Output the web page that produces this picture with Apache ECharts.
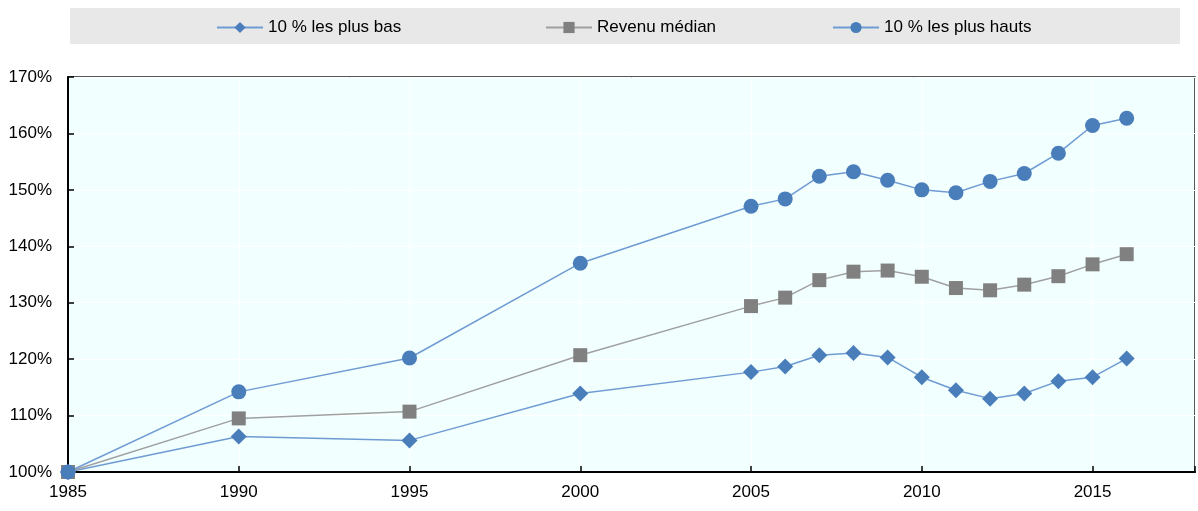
<!DOCTYPE html>
<html>
<head>
<meta charset="utf-8">
<script src="https://cdn.jsdelivr.net/npm/echarts@6/dist/echarts.min.js"></script>
<style>
html,body{margin:0;padding:0;background:#fff;}
#c{width:1198px;height:511px;}
</style>
</head>
<body>
<div id="c"></div>
<script>
var years = [1985, 1990, 1995, 2000, 2005, 2006, 2007, 2008, 2009, 2010, 2011, 2012, 2013, 2014, 2015, 2016];
var bottom10 = [100, 106.3, 105.6, 113.9, 117.7, 118.7, 120.7, 121.1, 120.3, 116.8, 114.5, 113.0, 113.9, 116.1, 116.8, 120.1];
var median = [100, 109.5, 110.7, 120.7, 129.4, 130.9, 134.0, 135.5, 135.7, 134.6, 132.6, 132.2, 133.2, 134.7, 136.8, 138.6];
var top10 = [100, 114.2, 120.2, 137.0, 147.1, 148.4, 152.4, 153.2, 151.7, 150.0, 149.5, 151.5, 152.9, 156.5, 161.4, 162.7];
var seriesNames = ['10 % les plus bas', 'Revenu médian', '10 % les plus hauts'];

function pairs(vals) { return years.map(function (y, i) { return [y, vals[i]]; }); }

var blue = '#4a7ebb', blueLine = '#6f9bd3', grey = '#808080', greyLine = '#a0a0a0';
var font = '"Liberation Sans", Arial, sans-serif';

var chart = echarts.init(document.getElementById('c'));
var legendBase = {
  orient: 'horizontal', top: 19, itemWidth: 46, itemHeight: 14, padding: 0,
  textStyle: { fontFamily: font, fontSize: 17, color: '#000' }, selectedMode: false
};
chart.setOption({
  animation: false,
  graphic: [{ type: 'rect', shape: { x: 70, y: 8, width: 1110, height: 36 }, style: { fill: '#e8e8e8' }, z: -1 }],
  legend: [
    Object.assign({}, legendBase, { left: 216, data: [seriesNames[0]] }),
    Object.assign({}, legendBase, { left: 545, data: [seriesNames[1]] }),
    Object.assign({}, legendBase, { left: 832, data: [seriesNames[2]] })
  ],
  grid: { left: 68, right: 1, top: 77, bottom: 39, show: true, backgroundColor: '#f2ffff', borderColor: '#222', borderWidth: 1.5 },
  xAxis: {
    type: 'value', min: 1985, max: 2018, interval: 5,
    axisLine: { show: true, lineStyle: { color: '#000', width: 2 } },
    axisTick: { show: true, inside: true, length: 6, lineStyle: { color: '#000', width: 1.5 } },
    axisLabel: { fontFamily: font, fontSize: 17, color: '#000', margin: 12,
      formatter: function (v) { return v % 5 === 0 ? String(v) : ''; } },
    splitLine: { show: true, lineStyle: { color: '#ffffff', width: 1 } }
  },
  yAxis: {
    type: 'value', min: 100, max: 170, interval: 10,
    axisLine: { show: true, lineStyle: { color: '#000', width: 2 } },
    axisTick: { show: true, inside: true, length: 6, lineStyle: { color: '#000', width: 1.5 } },
    axisLabel: { fontFamily: font, fontSize: 17, color: '#000', margin: 16, formatter: '{value}%' },
    splitLine: { show: true, lineStyle: { color: '#ffffff', width: 1 } }
  },
  series: [
    { name: seriesNames[0], type: 'line', data: pairs(bottom10), symbol: 'diamond', symbolSize: 16,
      itemStyle: { color: blue }, lineStyle: { color: blueLine, width: 1.5 } },
    { name: seriesNames[1], type: 'line', data: pairs(median), symbol: 'rect', symbolSize: 14,
      itemStyle: { color: grey }, lineStyle: { color: greyLine, width: 1.5 } },
    { name: seriesNames[2], type: 'line', data: pairs(top10), symbol: 'circle', symbolSize: 15,
      itemStyle: { color: blue }, lineStyle: { color: blueLine, width: 1.5 } }
  ]
});
</script>
</body>
</html>
